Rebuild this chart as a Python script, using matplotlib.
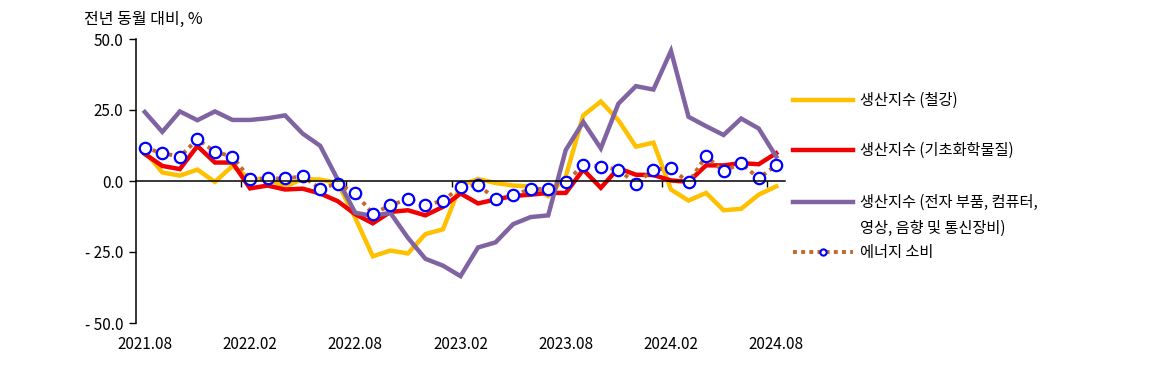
import matplotlib.pyplot as plt
from matplotlib.lines import Line2D
import matplotlib.transforms as mtransforms

plt.rcParams['font.family'] = ['Noto Sans CJK KR', 'DejaVu Sans']

# monthly, 2021.08 .. 2024.08
x_labels = ['2021.08', '2022.02', '2022.08', '2023.02', '2023.08', '2024.02', '2024.08']
steel = [10.5, 3.0, 1.9, 4.0, -0.3, 5.3, 0.7, 0.7, -1.9, 0.7, 0.5, -0.7,
         -13.0, -26.5, -24.5, -25.5, -18.7, -17.0, -1.5, 0.7, -0.7, -1.6, -1.9, -5.3,
         1.6, 23.1, 28.0, 21.4, 12.1, 13.5, -3.0, -6.9, -4.2, -10.3, -9.8, -4.8, -1.9]
chem = [9.5, 5.3, 4.2, 12.3, 6.5, 6.5, -2.6, -1.6, -3.0, -2.7, -4.4, -7.1,
        -11.7, -14.9, -10.9, -10.3, -12.1, -9.1, -4.4, -7.9, -6.5, -5.3, -4.8, -4.2,
        -4.2, 4.0, -2.4, 4.5, 2.2, 2.1, 0.2, -0.3, 5.5, 5.5, 6.3, 5.9, 9.8]
elec = [24.3, 17.3, 24.5, 21.4, 24.5, 21.5, 21.5, 22.1, 23.1, 16.7, 12.4, 0.5,
        -11.2, -12.3, -11.2, -20.0, -27.4, -29.8, -33.5, -23.4, -21.6, -15.2, -12.7, -12.1,
        10.9, 20.8, 11.5, 27.2, 33.4, 32.2, 45.8, 22.6, 19.3, 16.2, 22.0, 18.5, 8.6]
energy = [11.7, 9.8, 8.6, 14.7, 10.3, 8.6, 0.7, 0.9, 0.9, 1.6, -2.7, -0.9,
          -4.4, -11.5, -8.6, -6.3, -8.6, -6.9, -2.1, -1.4, -6.3, -5.1, -2.8, -2.8,
          -0.5, 5.7, 5.1, 4.0, -0.9, 4.0, 4.5, -0.5, 8.8, 3.4, 6.3, 0.9, 5.6]
y_ticks = [50, 25, 0, -25, -50]

labels = ['생산지수 (철강)', '생산지수 (기초화학물질)',
          '생산지수 (전자 부품, 컴퓨터,\n영상, 음향 및 통신장비)', '에너지 소비']
c_steel, c_chem, c_elec, c_energy, c_circ = '#FFC000', '#F00000', '#8064A2', '#C8662C', '#0000FF'

W, H = 1173, 376
fig = plt.figure(figsize=(W / 100, H / 100), dpi=100)
ax = fig.add_axes([136 / W, 1 - 323 / H, (785 - 136) / W, (323 - 39) / H])

xs = list(range(len(steel)))
ax.plot(xs, steel, color=c_steel, lw=3.2, solid_joinstyle='miter')
ax.plot(xs, chem, color=c_chem, lw=3.2, solid_joinstyle='miter')
ax.plot(xs, elec, color=c_elec, lw=3.2, solid_joinstyle='miter')
ax.plot(xs, energy, color=c_energy, lw=2.8, ls=(0, (1, 1.1)), dash_capstyle='butt')
ax.plot(xs, energy, ls='none', marker='o', ms=8.2, mfc='white', mec=c_circ, mew=1.6)

ax.set_xlim(-0.5, len(steel) - 0.5)
ax.set_ylim(-50, 50)
ax.spines['top'].set_visible(False)
ax.spines['right'].set_visible(False)
ax.spines['bottom'].set_position(('data', 0))
ax.spines['bottom'].set_linewidth(1.1)
ax.spines['left'].set_linewidth(1.1)

ax.set_xticks([5.5 + 6 * k for k in range(6)])
ax.set_xticklabels([])
ax.tick_params(axis='x', direction='out', length=4.5, width=1.0)
ax.set_yticks(y_ticks)
ax.set_yticklabels([('- %.1f' % -v) if v < 0 else '%.1f' % v for v in y_ticks])
ax.tick_params(axis='y', direction='out', length=5, width=1.0, pad=4, labelsize=11)

trans = mtransforms.blended_transform_factory(ax.transData, ax.transAxes)
for k, lab in enumerate(x_labels):
    ax.text(6 * k, -0.075, lab, transform=trans, ha='center', va='center', fontsize=11)

fig.text(84 / W, 1 - 19 / H, '전년 동월 대비, %', ha='left', va='center', fontsize=11.5)

# legend on the right
def fx(px):
    return px / W

def fy(py):
    return 1 - py / H

leg_y = [100, 150, 202, 252]
styles = [dict(color=c_steel, lw=3.2), dict(color=c_chem, lw=3.2), dict(color=c_elec, lw=3.2),
          dict(color=c_energy, lw=2.8, ls=(0, (1, 1.1)), dash_capstyle='butt')]
for yy, st, lab in zip(leg_y, styles, labels):
    fig.add_artist(Line2D([fx(793), fx(853)], [fy(yy), fy(yy)], transform=fig.transFigure, **st))
    for j, line in enumerate(lab.split('\n')):
        fig.text(fx(860), fy(yy + 26 * j), line, ha='left', va='center', fontsize=11)
fig.add_artist(Line2D([fx(823)], [fy(252)], transform=fig.transFigure, ls='none', marker='o',
                      ms=4.5, mfc='white', mec=c_circ, mew=1.5))

plt.savefig('out.png', dpi=100)
